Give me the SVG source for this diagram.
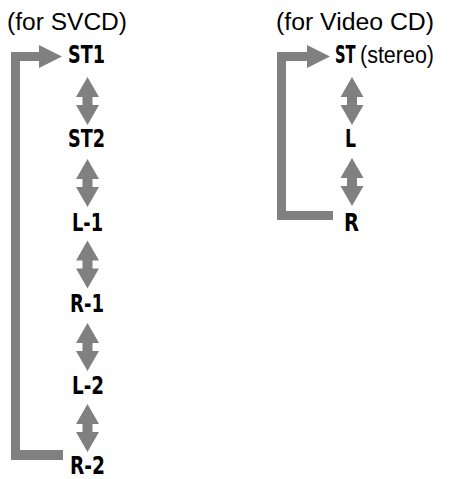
<svg xmlns="http://www.w3.org/2000/svg" width="463" height="479" viewBox="0 0 463 479">
<style>
.hdr{font-family:"Liberation Sans",Arial,sans-serif;font-size:23px;fill:#000}
.lbl{font-family:"Liberation Sans Narrow","DejaVu Sans Condensed","Liberation Sans",sans-serif;font-weight:bold;font-size:24px;fill:#000}
.g{fill:#808080}
</style>
<defs>
<path id="dbl" d="M0,-24 L11.5,-4 L5,-4 L5,4 L11.5,4 L0,24 L-11.5,4 L-5,4 L-5,-4 L-11.5,-4 Z"/>
</defs>
<g id="header-svcd"><text class="hdr" x="7" y="30" textLength="120" lengthAdjust="spacingAndGlyphs">(for SVCD)</text></g>
<g id="header-vcd"><text class="hdr" x="276" y="30" textLength="158" lengthAdjust="spacingAndGlyphs">(for Video CD)</text></g>
<g id="connectors">
<path class="g" d="M11,460 L11,52 L39,52 L39,45 L62,56.5 L39,68 L39,61 L20,61 L20,450 L63,450 L63,460 Z"/>
<use href="#dbl" class="g" x="87.5" y="101"/>
<use href="#dbl" class="g" x="87.5" y="183"/>
<use href="#dbl" class="g" x="87.5" y="264.5"/>
<use href="#dbl" class="g" x="87.5" y="347"/>
<use href="#dbl" class="g" x="87.5" y="428"/>
<path class="g" d="M277,220 L277,52 L307,52 L307,45 L330,56.5 L307,68 L307,61 L286,61 L286,211 L333,211 L333,220 Z"/>
<use href="#dbl" class="g" x="352" y="101"/>
<use href="#dbl" class="g" x="352" y="182"/>
</g>
<g id="n-st1"><text class="lbl" x="68" y="63" textLength="37" lengthAdjust="spacingAndGlyphs">ST1</text></g>
<g id="n-st2"><text class="lbl" x="68" y="147" textLength="37" lengthAdjust="spacingAndGlyphs">ST2</text></g>
<g id="n-l1"><text class="lbl" x="72" y="231" textLength="31" lengthAdjust="spacingAndGlyphs">L-1</text></g>
<g id="n-r1"><text class="lbl" x="70" y="312" textLength="34" lengthAdjust="spacingAndGlyphs">R-1</text></g>
<g id="n-l2"><text class="lbl" x="72" y="394" textLength="32" lengthAdjust="spacingAndGlyphs">L-2</text></g>
<g id="n-r2"><text class="lbl" x="70" y="474" textLength="35" lengthAdjust="spacingAndGlyphs">R-2</text></g>
<g id="n-st"><text class="lbl" transform="translate(335,63) scale(0.68,1)">ST</text><text class="hdr" x="360" y="63" textLength="74" lengthAdjust="spacingAndGlyphs">(stereo)</text></g>
<g id="n-l"><text class="lbl" x="345" y="147" textLength="11" lengthAdjust="spacingAndGlyphs">L</text></g>
<g id="n-r"><text class="lbl" x="344" y="231" textLength="15" lengthAdjust="spacingAndGlyphs">R</text></g>
</svg>
